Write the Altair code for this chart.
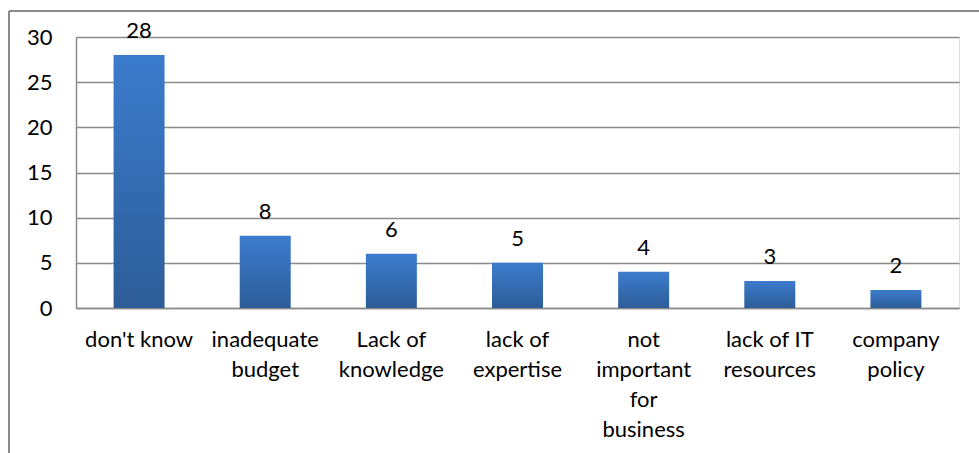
import altair as alt
import pandas as pd

categories = ["don't know", "inadequate|budget", "Lack of|knowledge", "lack of|expertise",
              "not|important|for|business", "lack of IT|resources", "company|policy"]
values = [28, 8, 6, 5, 4, 3, 2]
y_ticks = [0, 5, 10, 15, 20, 25, 30]

df = pd.DataFrame({"category": categories, "value": values})

FONT = "Lato"
FS = 22
W, H = 883, 271

x = alt.X("category:N", sort=None, title=None,
          scale=alt.Scale(paddingInner=0.0, paddingOuter=0.0),
          axis=alt.Axis(labelAngle=0, labelExpr="split(datum.value, '|')",
                        labelFontSize=FS, labelFont=FONT, labelColor="#000000",
                        labelLineHeight=30, labelPadding=21, ticks=False,
                        domainColor="#8a8a8a", domainWidth=1.5, labelBaseline="top"))
y = alt.Y("value:Q", title=None,
          scale=alt.Scale(domain=[0, 30], nice=False),
          axis=alt.Axis(values=y_ticks, labelFontSize=FS, labelFont=FONT, labelColor="#000000",
                        labelPadding=24, ticks=False, domain=True, domainColor="#8a8a8a",
                        domainWidth=1.5, grid=True, gridColor="#8a8a8a", gridWidth=1.5))

grad = alt.Gradient(gradient="linear", x1=0, x2=0, y1=0, y2=1,
                    stops=[alt.GradientStop(color="#3C7CCD", offset=0),
                           alt.GradientStop(color="#2D5D98", offset=1)])

bars = alt.Chart(df).mark_bar(size=51, color=grad).encode(x=x, y=y)

labels = alt.Chart(df).mark_text(font=FONT, fontSize=FS, color="#000000",
                                 baseline="alphabetic", dy=-17).encode(
    x=alt.X("category:N", sort=None), y="value:Q", text="value:Q")

border_left = alt.Chart(df).mark_rule(color="#8a8a8a", strokeWidth=1.5).encode(
    x=alt.value(-67), y=alt.value(-26), y2=alt.value(H + 200))
border_top = alt.Chart(df).mark_rule(color="#8a8a8a", strokeWidth=1.5).encode(
    x=alt.value(-67), x2=alt.value(W + 60), y=alt.value(-26))

chart = alt.layer(bars, labels, border_left, border_top).properties(
    width=W, height=H,
    autosize=alt.AutoSizeParams(type="none"),
    padding={"left": 76, "top": 37, "right": 20, "bottom": 145},
).configure_view(stroke=None).configure(background="#ffffff")

chart.save("out.html", embed_options={"renderer": "svg", "actions": False})
